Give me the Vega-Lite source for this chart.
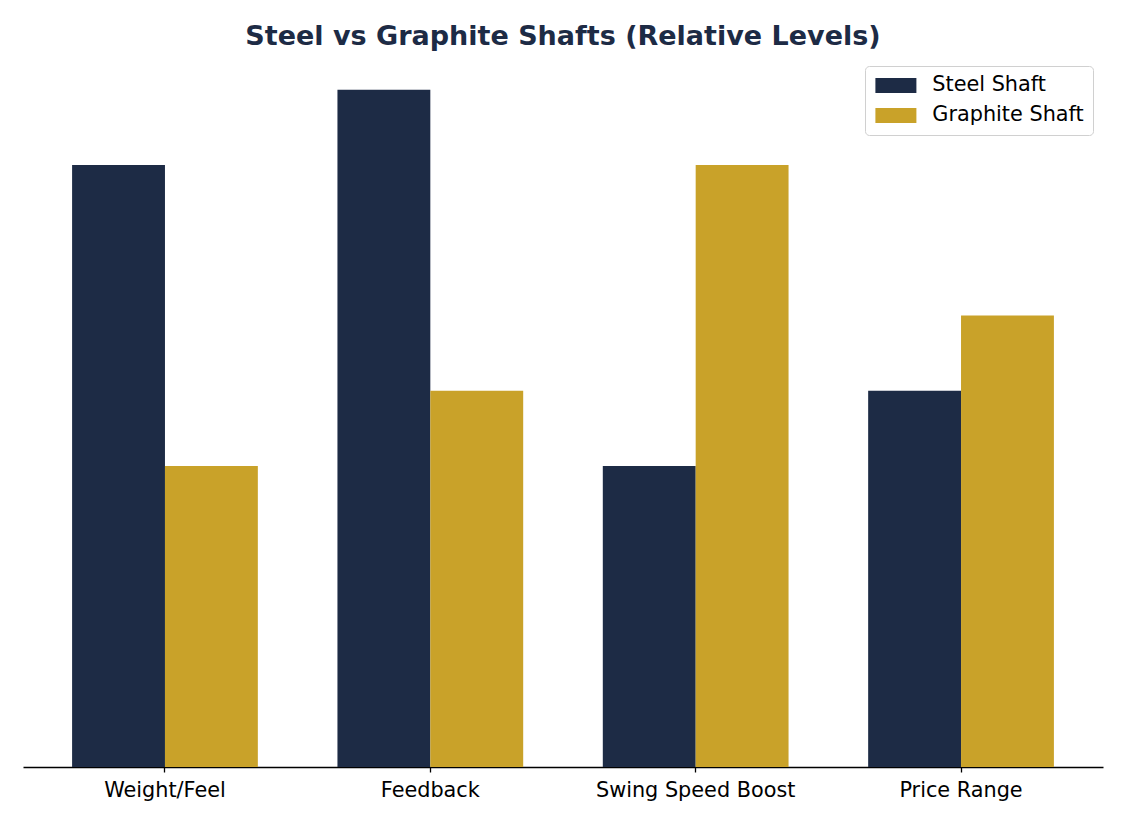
{
  "$schema": "https://vega.github.io/schema/vega-lite/v6.json",
  "width": 1080,
  "height": 711,
  "autosize": {"type": "none"},
  "padding": {"left": 23, "top": 56, "right": 22, "bottom": 58},
  "background": "white",
  "title": {
    "text": "Steel vs Graphite Shafts (Relative Levels)",
    "font": "DejaVu Sans",
    "fontSize": 27,
    "fontWeight": "bold",
    "color": "#1d2b45",
    "anchor": "middle",
    "offset": 5
  },
  "config": {
    "view": {"stroke": null},
    "font": "DejaVu Sans"
  },
  "data": {
    "values": [
      {"aspect": "Weight/Feel", "shaft": "Steel Shaft", "level": 8},
      {"aspect": "Weight/Feel", "shaft": "Graphite Shaft", "level": 4},
      {"aspect": "Feedback", "shaft": "Steel Shaft", "level": 9},
      {"aspect": "Feedback", "shaft": "Graphite Shaft", "level": 5},
      {"aspect": "Swing Speed Boost", "shaft": "Steel Shaft", "level": 4},
      {"aspect": "Swing Speed Boost", "shaft": "Graphite Shaft", "level": 8},
      {"aspect": "Price Range", "shaft": "Steel Shaft", "level": 5},
      {"aspect": "Price Range", "shaft": "Graphite Shaft", "level": 6}
    ]
  },
  "mark": {"type": "bar"},
  "encoding": {
    "x": {
      "field": "aspect",
      "type": "nominal",
      "sort": ["Weight/Feel", "Feedback", "Swing Speed Boost", "Price Range"],
      "scale": {"paddingInner": 0.3, "paddingOuter": 0.185},
      "axis": {
        "title": null,
        "labelAngle": 0,
        "labelFontSize": 20.8,
        "labelLimit": 0,
        "labelColor": "black",
        "labelPadding": 8,
        "domainColor": "black",
        "domainWidth": 1.3,
        "tickColor": "black",
        "tickSize": 5,
        "tickWidth": 1.3,
        "grid": false
      }
    },
    "xOffset": {
      "field": "shaft",
      "type": "nominal",
      "sort": ["Steel Shaft", "Graphite Shaft"],
      "scale": {"paddingInner": 0, "paddingOuter": 0}
    },
    "y": {
      "field": "level",
      "type": "quantitative",
      "scale": {"domain": [0, 9.45], "nice": false},
      "axis": null
    },
    "color": {
      "field": "shaft",
      "type": "nominal",
      "sort": ["Steel Shaft", "Graphite Shaft"],
      "scale": {"domain": ["Steel Shaft", "Graphite Shaft"], "range": ["#1d2b45", "#c9a229"]},
      "legend": {
        "title": null,
        "orient": "none",
        "legendX": 842,
        "legendY": 10,
        "symbolType": "M-2.05,-0.75H2.05V0.75H-2.05Z",
        "symbolSize": 400,
        "symbolOffset": 11.5,
        "symbolStrokeWidth": 0,
        "symbolOpacity": 1,
        "labelFontSize": 20.8,
        "labelLimit": 0,
        "labelColor": "black",
        "labelOffset": 26,
        "rowPadding": 8,
        "padding": 9,
        "fillColor": "white",
        "strokeColor": "#d0d0d0",
        "cornerRadius": 4
      }
    }
  }
}
